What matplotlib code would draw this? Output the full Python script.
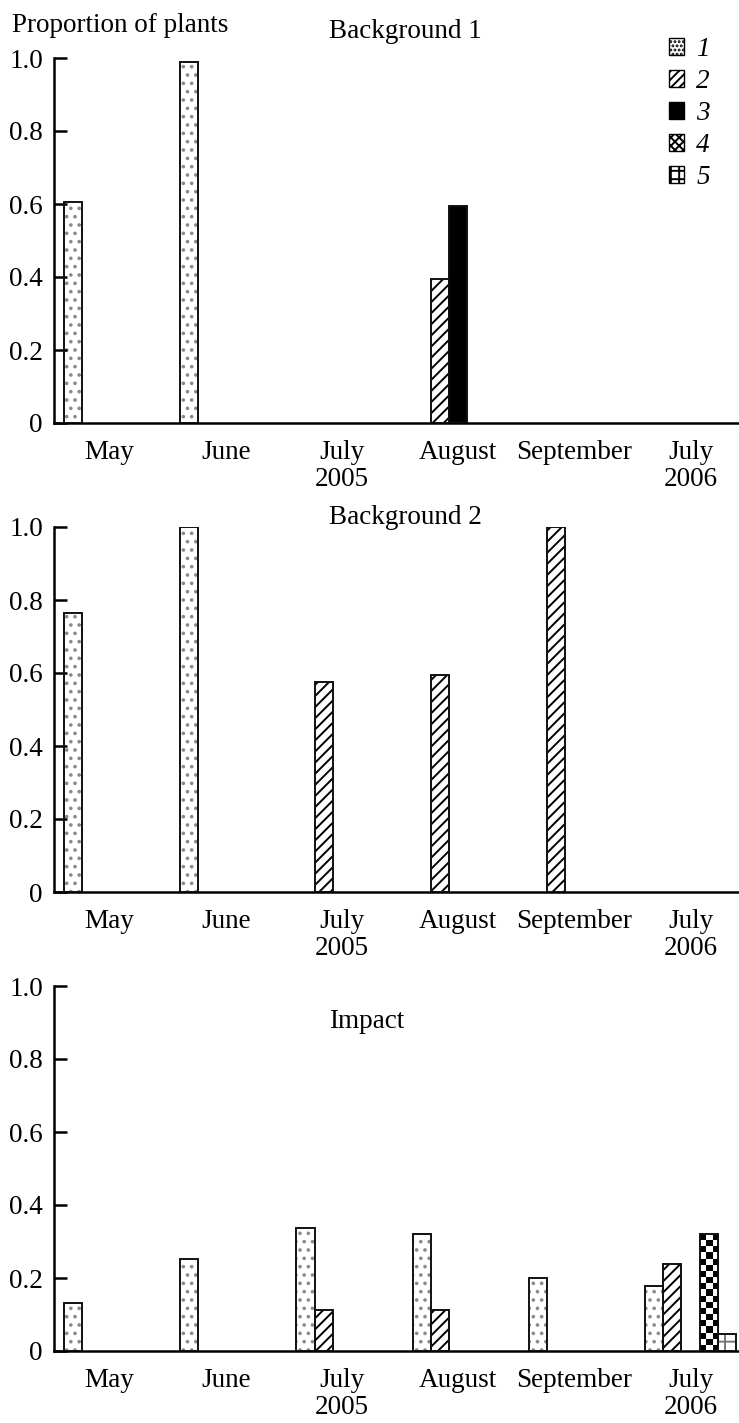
import numpy as np
import matplotlib
matplotlib.use('Agg')
import matplotlib.pyplot as plt
from matplotlib.patches import Patch

# Month groups on the x axis
months = ['May', 'June', 'July\n2005', 'August', 'September', 'July\n2006']
# Plant categories (legend 1..5)
categories = ['1', '2', '3', '4', '5']

# Proportion of plants: one row per category, one column per month
background1 = [
    [0.605, 0.99, 0, 0, 0, 0],
    [0, 0, 0, 0.395, 0, 0],
    [0, 0, 0, 0.595, 0, 0],
    [0, 0, 0, 0, 0, 0],
    [0, 0, 0, 0, 0, 0],
]
background2 = [
    [0.765, 1.0, 0, 0, 0, 0],
    [0, 0, 0.575, 0.595, 1.0, 0],
    [0, 0, 0, 0, 0, 0],
    [0, 0, 0, 0, 0, 0],
    [0, 0, 0, 0, 0, 0],
]
impact = [
    [0.131, 0.252, 0.337, 0.32, 0.2, 0.178],
    [0, 0, 0.112, 0.112, 0, 0.238],
    [0, 0, 0, 0, 0, 0],
    [0, 0, 0, 0, 0, 0.32],
    [0, 0, 0, 0, 0, 0.047],
]

yticks = [0, 0.2, 0.4, 0.6, 0.8, 1.0]
ytick_labels = ['0', '0.2', '0.4', '0.6', '0.8', '1.0']

plt.rcParams['font.family'] = 'Liberation Serif'
plt.rcParams['hatch.linewidth'] = 1.4

FS = 19.5
W, H = 739, 1423
fig = plt.figure(figsize=(W / 100, H / 100), dpi=100)

# hatch / fill for every category (category 4 gets a checkerboard image)
hatches = ['..', '///', None, None, '+']
hatch_colors = ['#8a8a8a', 'black', 'black', 'black', '#777777']
faces = ['white', 'white', 'black', 'white', 'white']

bw = 0.157           # width of one bar slot
xlim = (-0.478, 5.417)


def checker(ax, bar):
    # fill a bar with a black/white checkerboard, 3 cells wide
    x0, y0 = bar.get_x(), bar.get_y()
    w, h = bar.get_width(), bar.get_height()
    p0 = ax.transData.transform((x0, y0))
    p1 = ax.transData.transform((x0 + w, y0 + h))
    cell = (p1[0] - p0[0]) / 3
    rows = max(1, int(round((p1[1] - p0[1]) / cell)))
    img = np.add.outer(np.arange(rows), np.arange(3)) % 2
    im = ax.imshow(img, cmap='gray', origin='upper', interpolation='nearest',
                   extent=(x0, x0 + w, y0, y0 + h), aspect='auto', zorder=2)
    im.set_clip_path(bar)


def draw_panel(ax, data):
    x = np.arange(len(months))
    ax.set_xlim(*xlim)
    ax.set_ylim(0, 1)
    for k, row in enumerate(data):
        row = np.array(row, dtype=float)
        keep = row > 0
        if not keep.any():
            continue
        xs = x[keep] + (k - 2.5) * bw
        # fill + hatch
        bars = ax.bar(xs, row[keep], width=bw, align='edge',
                      facecolor=faces[k], edgecolor=hatch_colors[k],
                      hatch=hatches[k], linewidth=0, zorder=1)
        if k == 3:
            for b in bars:
                checker(ax, b)
        # outline
        ax.bar(xs, row[keep], width=bw, align='edge', fill=False,
               edgecolor='#111111', linewidth=1.4, zorder=3)

    for s in ['top', 'right']:
        ax.spines[s].set_visible(False)
    for s in ['left', 'bottom']:
        ax.spines[s].set_linewidth(1.8)
    ax.set_yticks(yticks)
    ax.set_yticklabels(ytick_labels)
    ax.tick_params(axis='y', direction='in', length=9, width=1.8,
                   pad=8, labelsize=FS)
    ax.set_xticks(x)
    ax.set_xticklabels(months, linespacing=1.1)
    ax.tick_params(axis='x', length=0, pad=12, labelsize=FS)


panels = [(58, background1), (527, background2), (986, impact)]
axes = []
for top, data in panels:
    ax = fig.add_axes([54 / W, 1 - (top + 365) / H, 685 / W, 365 / H])
    ax.patch.set_alpha(0)
    draw_panel(ax, data)
    axes.append(ax)

fig.text(12 / W, 1 - 26 / H, 'Proportion of plants', fontsize=FS,
         ha='left', va='center')
fig.text(329 / W, 1 - 31 / H, 'Background 1', fontsize=FS,
         ha='left', va='center')
fig.text(329 / W, 1 - 517 / H, 'Background 2', fontsize=FS,
         ha='left', va='center')
fig.text(329 / W, 1 - 1021 / H, 'Impact', fontsize=FS,
         ha='left', va='center')

legend_hatch = ['....', '////', None, 'xxxx', '++']
handles = [Patch(facecolor=faces[k] if k != 3 else 'white',
                 edgecolor='black', hatch=legend_hatch[k], linewidth=1.0,
                 label=categories[k]) for k in range(5)]
fig.legend(handles=handles, loc='upper left',
           bbox_to_anchor=(669 / W, 1 - 37 / H), frameon=False,
           handlelength=0.55, handleheight=0.55, handletextpad=0.45,
           labelspacing=0.26, borderpad=0, borderaxespad=0,
           prop={'family': 'Liberation Serif', 'style': 'italic', 'size': FS})

fig.savefig('out.png', dpi=100)
